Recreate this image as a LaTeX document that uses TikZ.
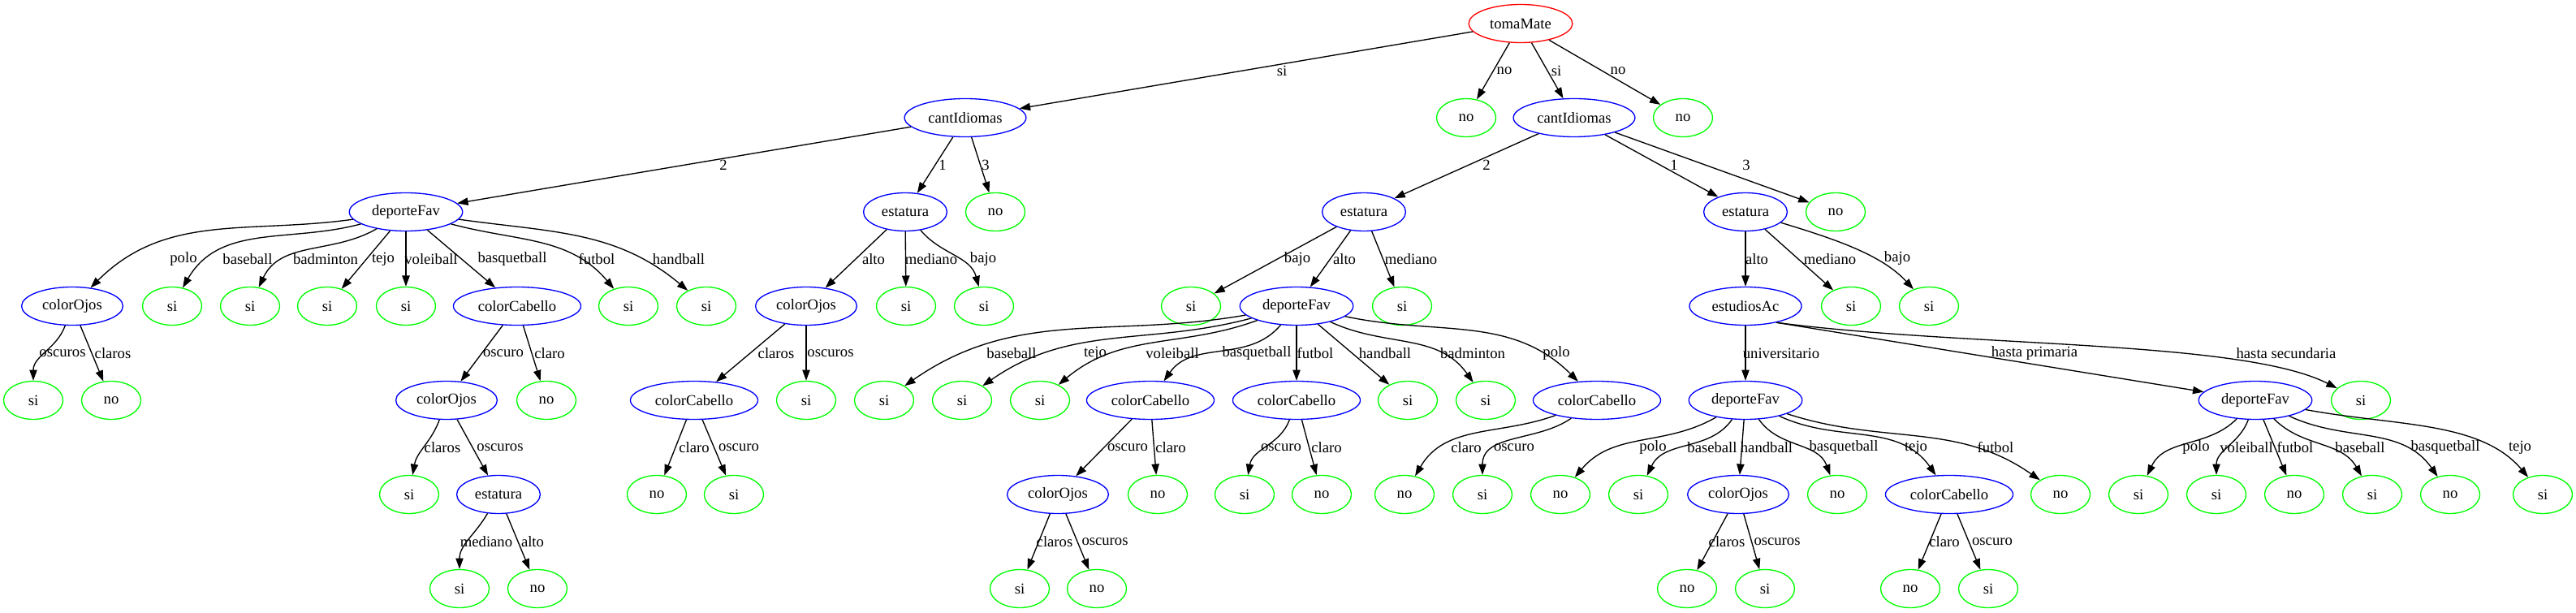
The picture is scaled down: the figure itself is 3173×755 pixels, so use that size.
\documentclass[tikz,border=0pt]{standalone}
\usepackage{fontspec}
\setmainfont{Liberation Serif}
\usetikzlibrary{shapes.geometric,arrows.meta}

\tikzset{
  raiz/.style={ellipse, draw=red, line width=1pt, inner xsep=5.5pt, inner ysep=0pt,
    minimum height=35.25pt, font=\fontsize{14}{16}\selectfont},
  atrib/.style={raiz, draw=blue},
  hoja/.style={raiz, draw=green, minimum width=54.75pt},
  arista/.style={-{Triangle[length=10pt,width=7pt]}, line width=1pt},
  etiq/.style={font=\fontsize{14}{16}\selectfont, inner sep=0pt},
}

\begin{document}
\begin{tikzpicture}[x=0.75pt,y=-0.75pt]
  \useasboundingbox (0,0) rectangle (3173,755);

  % Nodo raiz
  \node[raiz] (tm) at (1873,29) {tomaMate};

  % Nivel 1
  \node[atrib] (ciA) at (1189,145) {cantIdiomas};
  \node[hoja] (h1) at (1806,145) {no};
  \node[atrib] (ciB) at (1939,145) {cantIdiomas};
  \node[hoja] (h2) at (2073,145) {no};

  % Nivel 2
  \node[atrib] (dfA) at (500,261) {deporteFav};
  \node[atrib] (esA) at (1115,261) {estatura};
  \node[hoja] (h3) at (1226,261) {no};
  \node[atrib] (esB) at (1680,261) {estatura};
  \node[atrib] (esC) at (2150,261) {estatura};
  \node[hoja] (h4) at (2261,261) {no};

  % Nivel 3
  \node[atrib] (ojA) at (89,377) {colorOjos};
  \node[hoja] (h5) at (212,377) {si};
  \node[hoja] (h6) at (308,377) {si};
  \node[hoja] (h7) at (403,377) {si};
  \node[hoja] (h8) at (500,377) {si};
  \node[atrib] (cbA) at (637,377) {colorCabello};
  \node[hoja] (h9) at (774,377) {si};
  \node[hoja] (h10) at (870,377) {si};
  \node[atrib] (ojB) at (993,377) {colorOjos};
  \node[hoja] (h11) at (1116,377) {si};
  \node[hoja] (h12) at (1212,377) {si};
  \node[hoja] (h13) at (1467,377) {si};
  \node[atrib] (dfB) at (1597,377) {deporteFav};
  \node[hoja] (h14) at (1727,377) {si};
  \node[atrib] (eaA) at (2150,377) {estudiosAc};
  \node[hoja] (h15) at (2280,377) {si};
  \node[hoja] (h16) at (2376,377) {si};

  % Nivel 4
  \node[hoja] (h17) at (41,493) {si};
  \node[hoja] (h18) at (137,493) {no};
  \node[atrib] (ojC) at (550,493) {colorOjos};
  \node[hoja] (h19) at (673,493) {no};
  \node[atrib] (cbB) at (855,493) {colorCabello};
  \node[hoja] (h20) at (993,493) {si};
  \node[hoja] (h21) at (1089,493) {si};
  \node[hoja] (h22) at (1185,493) {si};
  \node[hoja] (h23) at (1281,493) {si};
  \node[atrib] (cbC) at (1417,493) {colorCabello};
  \node[atrib] (cbD) at (1597,493) {colorCabello};
  \node[hoja] (h24) at (1734,493) {si};
  \node[hoja] (h25) at (1830,493) {si};
  \node[atrib] (cbE) at (1967,493) {colorCabello};
  \node[atrib] (dfC) at (2150,493) {deporteFav};
  \node[atrib] (dfD) at (2778,493) {deporteFav};
  \node[hoja] (h26) at (2908,493) {si};

  % Nivel 5
  \node[hoja] (h27) at (504,609) {si};
  \node[atrib] (esD) at (614,609) {estatura};
  \node[hoja] (h28) at (809,609) {no};
  \node[hoja] (h29) at (904,609) {si};
  \node[atrib] (ojD) at (1303,609) {colorOjos};
  \node[hoja] (h30) at (1426,609) {no};
  \node[hoja] (h31) at (1533,609) {si};
  \node[hoja] (h32) at (1628,609) {no};
  \node[hoja] (h33) at (1730,609) {no};
  \node[hoja] (h34) at (1826,609) {si};
  \node[hoja] (h35) at (1922,609) {no};
  \node[hoja] (h36) at (2018,609) {si};
  \node[atrib] (ojE) at (2141,609) {colorOjos};
  \node[hoja] (h37) at (2263,609) {no};
  \node[atrib] (cbF) at (2401,609) {colorCabello};
  \node[hoja] (h38) at (2538,609) {no};
  \node[hoja] (h39) at (2634,609) {si};
  \node[hoja] (h40) at (2730,609) {si};
  \node[hoja] (h41) at (2826,609) {no};
  \node[hoja] (h42) at (2922,609) {si};
  \node[hoja] (h43) at (3018,609) {no};
  \node[hoja] (h44) at (3132,609) {si};

  % Nivel 6
  \node[hoja] (h45) at (566,725) {si};
  \node[hoja] (h46) at (662,725) {no};
  \node[hoja] (h47) at (1256,725) {si};
  \node[hoja] (h48) at (1351,725) {no};
  \node[hoja] (h49) at (2078,725) {no};
  \node[hoja] (h50) at (2174,725) {si};
  \node[hoja] (h51) at (2353,725) {no};
  \node[hoja] (h52) at (2449,725) {si};

  % Aristas de tomaMate
  \draw[arista] (tm) -- (ciA) node[etiq] at (1579,87) {si};
  \draw[arista] (tm) -- (h1) node[etiq] at (1853,87) {no};
  \draw[arista] (tm) -- (ciB) node[etiq] at (1917,87) {si};
  \draw[arista] (tm) -- (h2) node[etiq] at (1993,87) {no};

  % Aristas de cantIdiomas
  \draw[arista] (ciA) -- (dfA) node[etiq] at (891,203) {2};
  \draw[arista] (ciA) -- (esA) node[etiq] at (1161,203) {1};
  \draw[arista] (ciA) -- (h3) node[etiq] at (1214,203) {3};
  \draw[arista] (ciB) -- (esB) node[etiq] at (1831,203) {2};
  \draw[arista] (ciB) -- (esC) node[etiq] at (2062,203) {1};
  \draw[arista] (ciB) -- (h4) node[etiq] at (2151,203) {3};

  % Aristas del nivel 2
  \draw[arista] (dfA) to[out=188,in=45] (ojA) node[etiq] at (226,319) {polo};
  \draw[arista] (dfA) to[out=195,in=60] (h5) node[etiq] at (305,319) {baseball};
  \draw[arista] (dfA) to[out=210,in=65] (h6) node[etiq] at (401,319) {badminton};
  \draw[arista] (dfA) -- (h7) node[etiq] at (472,319) {tejo};
  \draw[arista] (dfA) -- (h8) node[etiq] at (531,319) {voleiball};
  \draw[arista] (dfA) -- (cbA) node[etiq] at (631,319) {basquetball};
  \draw[arista] (dfA) to[out=-15,in=130] (h9) node[etiq] at (735,319) {futbol};
  \draw[arista] (dfA) to[out=-8,in=140] (h10) node[etiq] at (836,319) {handball};
  \draw[arista] (esA) -- (ojB) node[etiq] at (1076,319) {alto};
  \draw[arista] (esA) -- (h11) node[etiq] at (1147,319) {mediano};
  \draw[arista] (esA) to[out=-50,in=105] (h12) node[etiq] at (1211,319) {bajo};
  \draw[arista] (esB) -- (h13) node[etiq] at (1598,319) {bajo};
  \draw[arista] (esB) -- (dfB) node[etiq] at (1656,319) {alto};
  \draw[arista] (esB) -- (h14) node[etiq] at (1738,319) {mediano};
  \draw[arista] (esC) -- (eaA) node[etiq] at (2164,319) {alto};
  \draw[arista] (esC) -- (h15) node[etiq] at (2254,319) {mediano};
  \draw[arista] (esC) .. controls (2262,295) and (2318,314) .. (h16) node[etiq] at (2337,318) {bajo};

  % Aristas del nivel 3
  \draw[arista] (ojA) to[out=250,in=90] (h17) node[etiq] at (77,435) {oscuros};
  \draw[arista] (ojA) -- (h18) node[etiq] at (139,435) {claros};
  \draw[arista] (cbA) -- (ojC) node[etiq] at (620,435) {oscuro};
  \draw[arista] (cbA) -- (h19) node[etiq] at (677,435) {claro};
  \draw[arista] (ojB) -- (cbB) node[etiq] at (956,435) {claros};
  \draw[arista] (ojB) -- (h20) node[etiq] at (1023,435) {oscuros};
  \draw[arista] (dfB) to[out=190,in=35] (h21) node[etiq] at (1246,435) {baseball};
  \draw[arista] (dfB) to[out=195,in=35] (h22) node[etiq] at (1349,435) {tejo};
  \draw[arista] (dfB) to[out=200,in=40] (h23) node[etiq] at (1444,435) {voleiball};
  \draw[arista] (dfB) to[out=230,in=55] (cbC) node[etiq] at (1548,435) {basquetball};
  \draw[arista] (dfB) -- (cbD) node[etiq] at (1620,435) {futbol};
  \draw[arista] (dfB) -- (h24) node[etiq] at (1706,435) {handball};
  \draw[arista] (dfB) to[out=-25,in=125] (h25) node[etiq] at (1814,435) {badminton};
  \draw[arista] (dfB) to[out=-12,in=135] (cbE) node[etiq] at (1917,435) {polo};
  \draw[arista] (eaA) -- (dfC) node[etiq] at (2194,435) {universitario};
  \draw[arista] (eaA.-28) -- (dfD) node[etiq] at (2506,435) {hasta primaria};
  \draw[arista] (eaA.-28) .. controls (2420,428) and (2760,418) .. (h26) node[etiq] at (2816,435) {hasta secundaria};

  % Aristas del nivel 4
  \draw[arista] (ojC) to[out=250,in=80] (h27) node[etiq] at (545,551) {claros};
  \draw[arista] (ojC) -- (esD) node[etiq] at (616,551) {oscuros};
  \draw[arista] (cbB) -- (h28) node[etiq] at (855,551) {claro};
  \draw[arista] (cbB) -- (h29) node[etiq] at (910,551) {oscuro};
  \draw[arista] (cbC) -- (ojD) node[etiq] at (1389,551) {oscuro};
  \draw[arista] (cbC) -- (h30) node[etiq] at (1442,551) {claro};
  \draw[arista] (cbD) to[out=250,in=80] (h31) node[etiq] at (1578,551) {oscuro};
  \draw[arista] (cbD) -- (h32) node[etiq] at (1634,551) {claro};
  \draw[arista] (cbE) to[out=200,in=60] (h33) node[etiq] at (1806,551) {claro};
  \draw[arista] (cbE) to[out=215,in=90] (h34) node[etiq] at (1865,551) {oscuro};
  \draw[arista] (dfC) to[out=210,in=50] (h35) node[etiq] at (2036,551) {polo};
  \draw[arista] (dfC) to[out=235,in=65] (h36) node[etiq] at (2109,551) {baseball};
  \draw[arista] (dfC) -- (ojE) node[etiq] at (2176,551) {handball};
  \draw[arista] (dfC) to[out=-55,in=110] (h37) node[etiq] at (2271,551) {basquetball};
  \draw[arista] (dfC) to[out=-25,in=125] (cbF) node[etiq] at (2360,551) {tejo};
  \draw[arista] (dfC) to[out=-18,in=145] (h38) node[etiq] at (2458,551) {futbol};
  \draw[arista] (dfD) to[out=225,in=65] (h39) node[etiq] at (2705,551) {polo};
  \draw[arista] (dfD) to[out=250,in=90] (h40) node[etiq] at (2767,551) {voleiball};
  \draw[arista] (dfD) -- (h41) node[etiq] at (2827,551) {futbol};
  \draw[arista] (dfD) to[out=-45,in=120] (h42) node[etiq] at (2907,551) {baseball};
  \draw[arista] (dfD) to[out=-25,in=125] (h43) node[etiq] at (3012,551) {basquetball};
  \draw[arista] (dfD) .. controls (2950,525) and (3055,518) .. (h44) node[etiq] at (3104,551) {tejo};

  % Aristas del nivel 5
  \draw[arista] (esD) to[out=240,in=90] (h45) node[etiq] at (599,667) {mediano};
  \draw[arista] (esD) -- (h46) node[etiq] at (656,667) {alto};
  \draw[arista] (ojD) -- (h47) node[etiq] at (1299,667) {claros};
  \draw[arista] (ojD) -- (h48) node[etiq] at (1361,667) {oscuros};
  \draw[arista] (ojE) -- (h49) node[etiq] at (2127,667) {claros};
  \draw[arista] (ojE) -- (h50) node[etiq] at (2189,667) {oscuros};
  \draw[arista] (cbF) -- (h51) node[etiq] at (2395,667) {claro};
  \draw[arista] (cbF) -- (h52) node[etiq] at (2454,667) {oscuro};

\end{tikzpicture}
\end{document}
